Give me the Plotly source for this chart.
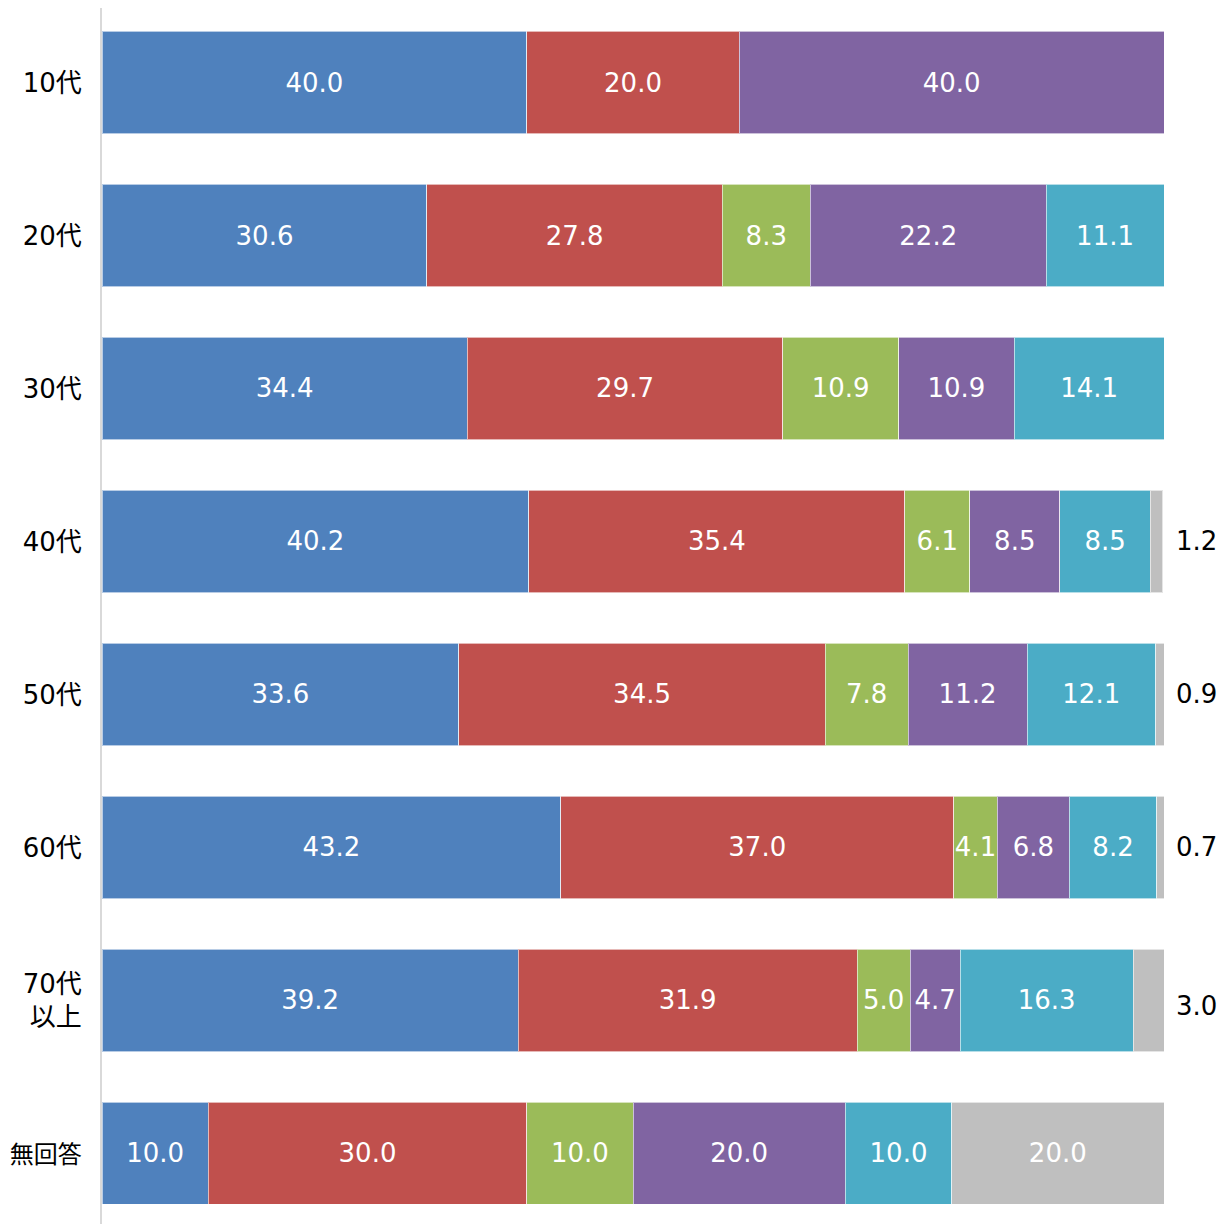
import plotly.graph_objects as go

categories = ["10代", "20代", "30代", "40代", "50代", "60代", "70代<br>以上", "無回答"]
series_names = ["S1", "S2", "S3", "S4", "S5", "S6"]
s1 = [40.0, 30.6, 34.4, 40.2, 33.6, 43.2, 39.2, 10.0]
s2 = [20.0, 27.8, 29.7, 35.4, 34.5, 37.0, 31.9, 30.0]
s3 = [0, 8.3, 10.9, 6.1, 7.8, 4.1, 5.0, 10.0]
s4 = [40.0, 22.2, 10.9, 8.5, 11.2, 6.8, 4.7, 20.0]
s5 = [0, 11.1, 14.1, 8.5, 12.1, 8.2, 16.3, 10.0]
s6 = [0, 0, 0, 1.2, 0.9, 0.7, 3.0, 20.0]
colors = ["#4F81BD", "#C0504D", "#9BBB59", "#8064A2", "#4BACC6", "#BFBFBF"]

FONT = "DejaVu Sans, Noto Sans CJK JP, sans-serif"
FS = 26
ypos = list(range(len(categories)))

# all-CJK labels rendered slightly smaller so they fit like the reference
ticktext = [
    c if any(ch.isdigit() for ch in c) else f"<span style='font-size:24px'>{c}</span>"
    for c in categories
]

fig = go.Figure()
all_series = [s1, s2, s3, s4, s5, s6]
annotations = []
for i, (name, vals, col) in enumerate(zip(series_names, all_series, colors)):
    texts = []
    for j, v in enumerate(vals):
        if v <= 0:
            texts.append("")
        elif i == 5 and v < 5:
            texts.append("")
            annotations.append(dict(
                x=100, y=j, xref="x", yref="y", text=f"{v:.1f}",
                showarrow=False, xanchor="left", xshift=10,
                yshift=-6 if v >= 3 else 0,
                font=dict(family=FONT, size=FS, color="#000000")))
        else:
            texts.append(f"{v:.1f}")
    fig.add_trace(go.Bar(
        y=ypos, x=vals, orientation="h", name=name,
        marker=dict(color=col, line=dict(color="rgba(255,255,255,0.6)", width=1)),
        text=texts, texttemplate="%{text}", textposition="inside",
        insidetextanchor="middle", textangle=0,
        textfont=dict(family=FONT, size=FS, color="#FFFFFF"),
        hoverinfo="skip", width=0.667,
    ))

fig.update_layout(
    barmode="stack",
    width=1219, height=1216,
    margin=dict(l=94, r=63, t=0, b=0, autoexpand=False),
    paper_bgcolor="white", plot_bgcolor="white",
    showlegend=False,
    uniformtext=dict(minsize=FS, mode="show"),
    font=dict(family=FONT, size=FS, color="#000000"),
    annotations=annotations,
)
fig.update_xaxes(range=[0, 100], visible=False, showgrid=False, zeroline=False)
fig.update_yaxes(
    range=[7.461, -0.487], tickmode="array", tickvals=ypos, ticktext=ticktext,
    showline=True, linecolor="#D9D9D9", linewidth=2, showgrid=False, zeroline=False,
    ticks="", ticklabelstandoff=13, automargin=False,
    tickfont=dict(family=FONT, size=FS, color="#000000"),
)

fig.write_html("out.html")
